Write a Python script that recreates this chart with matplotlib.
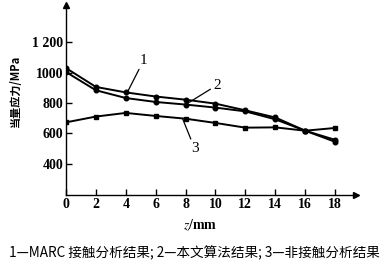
import matplotlib
matplotlib.use("Agg")
import matplotlib.pyplot as plt

plt.rcParams['font.family'] = ['Liberation Serif', 'Noto Sans CJK SC']
plt.rcParams['mathtext.fontset'] = 'stix'

# data
z = [0, 2, 4, 6, 8, 10, 12, 14, 16, 18]
marc = [1030, 906, 870, 843, 822, 796, 752, 705, 618, 545]      # 1 - MARC contact analysis
algo = [1004, 884, 833, 807, 790, 770, 745, 693, 618, 558]      # 2 - this paper's algorithm
noncontact = [673, 711, 735, 715, 697, 669, 638, 640, 618, 636]  # 3 - non-contact analysis
yticks = [400, 600, 800, 1000, 1200]
yticklabels = ['400', '600', '800', '1000', '1 200']
xticks = [0, 2, 4, 6, 8, 10, 12, 14, 16, 18]

fig = plt.figure(figsize=(3.89, 2.67), dpi=100)
ax = fig.add_axes([66/389, 1 - 195/267, (356-66)/389, (195-5)/267])

ax.plot(z, marc, color='black', lw=1.4, marker='o', ms=3.3)
ax.plot(z, algo, color='black', lw=1.4, marker='o', ms=3.3)
ax.plot(z, noncontact, color='black', lw=1.4, marker='s', ms=3.3)

ax.set_xlim(0, 19.4)
ax.set_ylim(195, 1445)
ax.set_xticks(xticks)
ax.set_xticklabels([str(v) for v in xticks], fontsize=10, fontweight='bold')
ax.set_yticks(yticks)
ax.set_yticklabels(yticklabels, fontsize=10, fontweight='bold')
ax.tick_params(direction='in', length=4, width=1, pad=2)

for s in ['top', 'right']:
    ax.spines[s].set_visible(False)
for s in ['left', 'bottom']:
    ax.spines[s].set_linewidth(1)

# axis arrows
ax.plot(1, 0, '>', color='black', ms=4, transform=ax.transAxes, clip_on=False)
ax.plot(0, 1, '^', color='black', ms=4, transform=ax.transAxes, clip_on=False)

# curve labels
ax.annotate('1', xy=(4.1, 870), xytext=(5.2, 1040), fontsize=11,
            ha='center', va='bottom',
            arrowprops=dict(arrowstyle='-', color='black', lw=0.9, shrinkA=0, shrinkB=0))
ax.annotate('2', xy=(8.0, 790), xytext=(10.1, 875), fontsize=11,
            ha='center', va='bottom',
            arrowprops=dict(arrowstyle='-', color='black', lw=0.9, shrinkA=0, shrinkB=0))
ax.annotate('3', xy=(7.8, 697), xytext=(8.6, 545), fontsize=11,
            ha='center', va='top',
            arrowprops=dict(arrowstyle='-', color='black', lw=0.9, shrinkA=0, shrinkB=0))

ax.set_xlabel('$z$/mm', fontsize=10, fontweight='bold')
ax.xaxis.set_label_coords((200-66)/290, -0.12)
ax.set_ylabel('当量应力/MPa', fontsize=8, family=['Noto Sans CJK SC'], fontweight='bold')
ax.yaxis.set_label_coords(-(66-22)/290, (195-91)/190)

fig.text(0.5, 1 - 253/267, '1—MARC 接触分析结果; 2—本文算法结果; 3—非接触分析结果',
         ha='center', va='center', fontsize=9.8,
         family=['Noto Sans CJK SC', 'DejaVu Sans'])

fig.savefig('out.png', dpi=100)
